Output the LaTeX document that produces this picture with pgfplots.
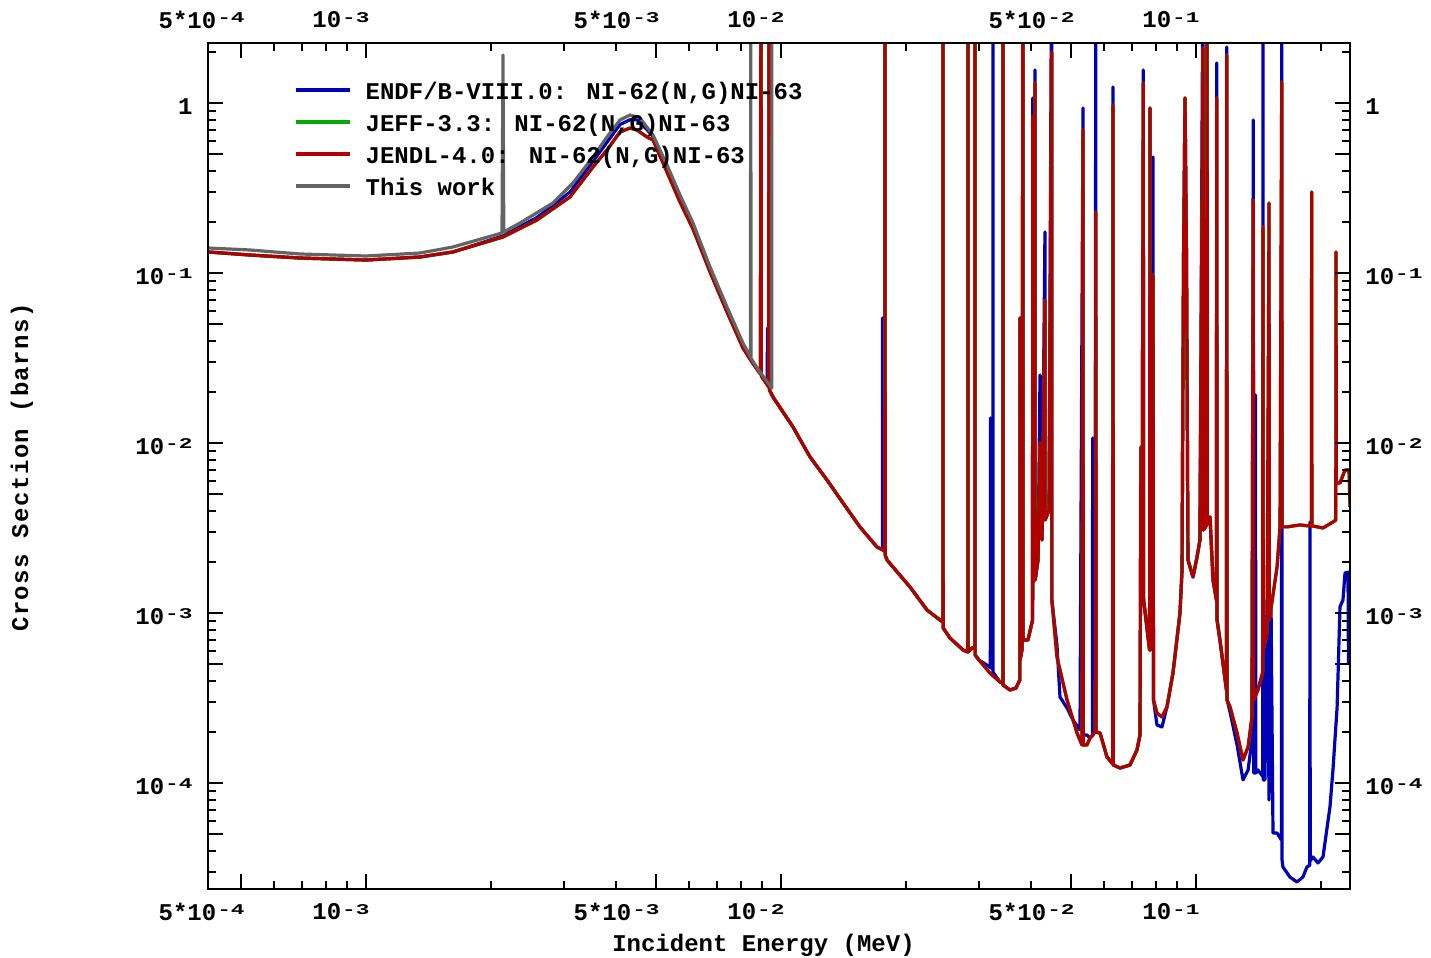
\documentclass[border=0pt]{standalone}
\usepackage{fontspec}
\setmainfont{Liberation Mono}
\usepackage{pgfplots}
\usepackage{pgfplotstable}
\pgfplotsset{compat=1.18}
\definecolor{cBlue}{RGB}{0,0,180}
\definecolor{cGreen}{RGB}{0,170,0}
\definecolor{cRed}{RGB}{176,0,0}
\definecolor{cGray}{RGB}{100,100,100}
\newcommand\lf{\fontsize{12bp}{14bp}\selectfont\bfseries}
\newcommand\ex[1]{\kern0.5bp\raisebox{0.24em}{\scalebox{0.95}[0.62]{#1}}}

% JENDL-4.0 (also used for JEFF-3.3, which coincides with it at this scale)
\pgfplotstableread{
E s
4.162e-4 0.1335
5.254e-4 0.1281
6.934e-4 0.1230
1.000e-3 0.1197
1.349e-3 0.1247
1.620e-3 0.1335
2.139e-3 0.1635
2.582e-3 0.2058
3.101e-3 0.2811
3.524e-3 0.4220
3.808e-3 0.5312
4.093e-3 0.6780
4.326e-3 0.7155
4.498e-3 0.6964
4.755e-3 0.6336
4.916e-3 0.6083
5.312e-3 0.3944
5.710e-3 0.2627
6.138e-3 0.1823
6.746e-3 0.1018
7.413e-3 0.05920
8.097e-3 0.03636
8.512e-3 0.03007
8.925e-3 0.02556
8.950e-3 10
8.970e-3 0.02489
9.203e-3 0.02263
9.340e-3 0.02144
9.360e-3 10
9.380e-3 0.02058
9.565e-3 0.01873
1.069e-2 0.01247
1.175e-2 8.306e-3
1.291e-2 6.083e-3
1.411e-2 4.455e-3
1.550e-2 3.219e-3
1.703e-2 2.455e-3
1.779e-2 2.325e-3
1.781e-2 10
1.783e-2 2.202e-3
1.801e-2 2.058e-3
2.046e-2 1.428e-3
2.248e-2 1.046e-3
2.416e-2 9.133e-4
2.455e-2 8.888e-4
2.457e-2 10
2.459e-2 8.195e-4
2.554e-2 7.155e-4
2.746e-2 6.083e-4
2.820e-2 5.921e-4
2.822e-2 10
2.824e-2 5.921e-4
2.885e-2 6.250e-4
2.932e-2 6.250e-4
2.934e-2 10
2.936e-2 5.683e-4
3.000e-2 5.312e-4
3.189e-2 4.455e-4
3.370e-2 3.944e-4
3.425e-2 3.890e-4
3.427e-2 10
3.429e-2 3.786e-4
3.563e-2 3.539e-4
3.684e-2 3.636e-4
3.764e-2 4.052e-4
3.766e-2 0.05459
3.768e-2 5.312e-4
3.808e-2 6.083e-4
3.829e-2 10
3.832e-2 6.964e-4
3.937e-2 6.964e-4
4.038e-2 9.133e-4
4.041e-2 0.8307
4.044e-2 1.197e-3
4.093e-2 1.316
4.097e-2 1.570e-3
4.163e-2 2.058e-3
4.209e-2 0.01004
4.256e-2 2.699e-3
4.326e-2 0.06964
4.330e-2 3.539e-3
4.424e-2 4.052e-3
4.490e-2 2.004
4.495e-2 1.197e-3
4.624e-2 5.533e-4
4.890e-2 3.090e-4
5.168e-2 1.976e-4
5.312e-2 1.680e-4
5.342e-2 0.6964
5.350e-2 1.680e-4
5.461e-2 1.680e-4
5.553e-2 1.847e-4
5.720e-2 2.004e-4
5.733e-2 0.2294
5.745e-2 2.004e-4
5.872e-2 1.976e-4
6.103e-2 1.428e-4
6.300e-2 1.299e-4
6.310e-2 0.977
6.320e-2 1.281e-4
6.560e-2 1.230e-4
6.934e-2 1.281e-4
7.207e-2 1.570e-4
7.330e-2 1.923e-4
7.370e-2 9.511e-3
7.410e-2 1.197e-3
7.464e-2 1.316
7.480e-2 1.197e-3
7.730e-2 6.083e-4
7.748e-2 0.9384
7.760e-2 6.083e-4
7.877e-2 0.0977
7.900e-2 3.090e-4
8.054e-2 2.591e-4
8.279e-2 2.455e-4
8.512e-2 2.810e-4
8.801e-2 4.455e-4
9.150e-2 1.004e-3
9.254e-2 1.797e-3
9.331e-2 0.1197
9.409e-2 1.075
9.487e-2 0.1197
9.565e-2 2.058e-3
9.835e-2 1.635e-3
0.1006 2.144e-3
0.1022 2.699e-3
0.1040 2.114
0.1042 3.090e-3
0.1061 3.306e-3
0.1063 10
0.1065 3.539e-3
0.1081 3.686e-3
0.1099 1.570e-3
0.1120 1.197e-3
0.1122 1.075
0.1124 9.133e-4
0.1142 6.964e-4
0.1184 3.539e-4
0.1186 1.923
0.1188 3.090e-4
0.1208 2.810e-4
0.1256 1.976e-4
0.1298 1.371e-4
0.1335 1.635e-4
0.1364 2.455e-4
0.1374 0.2699
0.1377 3.090e-4
0.1410 3.539e-4
0.1448 4.5e-4
0.1450 0.1873
0.1452 6.083e-4
0.1483 7.658e-4
0.1500 0.2591
0.1502 9.133e-4
0.1568 1.873e-3
0.1594 3.223e-3
0.1609 1.335
0.1612 3.223e-3
0.1657 3.223e-3
0.1781 3.311e-3
0.1897 3.25e-3
0.1900 0.3007
0.1903 3.27e-3
0.2023 3.176e-3
0.2138 3.444e-3
0.2172 3.539e-3
0.2175 0.1335
0.2178 5.842e-3
0.2223 5.842e-3
0.2286 6.964e-3
0.2337 6.964e-3
0.2350 4.220e-3
}\jendl

% ENDF/B-VIII.0
\pgfplotstableread{
E s
4.162e-4 0.1335
5.254e-4 0.1281
6.934e-4 0.1230
1.000e-3 0.1197
1.349e-3 0.1247
1.620e-3 0.1335
2.139e-3 0.1660
2.582e-3 0.2130
3.101e-3 0.3000
3.524e-3 0.4550
3.808e-3 0.5900
4.093e-3 0.7500
4.326e-3 0.8000
4.498e-3 0.8000
4.755e-3 0.7000
4.916e-3 0.6400
5.312e-3 0.4200
5.710e-3 0.2800
6.138e-3 0.1900
6.746e-3 0.1050
7.413e-3 0.06100
8.097e-3 0.03700
8.512e-3 0.03007
8.925e-3 0.02556
8.950e-3 10
8.970e-3 0.02489
9.203e-3 0.02263
9.260e-3 0.0222
9.280e-3 0.04766
9.300e-3 0.0218
9.340e-3 0.02144
9.360e-3 10
9.380e-3 0.02058
9.565e-3 0.01873
1.069e-2 0.01247
1.175e-2 8.306e-3
1.291e-2 6.083e-3
1.411e-2 4.455e-3
1.550e-2 3.219e-3
1.703e-2 2.455e-3
1.755e-2 2.37e-3
1.757e-2 0.05459
1.759e-2 2.35e-3
1.779e-2 2.325e-3
1.781e-2 10
1.783e-2 2.202e-3
1.801e-2 2.058e-3
2.046e-2 1.428e-3
2.248e-2 1.046e-3
2.416e-2 9.133e-4
2.455e-2 8.888e-4
2.457e-2 10
2.459e-2 8.195e-4
2.554e-2 7.155e-4
2.746e-2 6.083e-4
2.820e-2 5.921e-4
2.822e-2 10
2.824e-2 5.921e-4
2.885e-2 6.250e-4
2.932e-2 6.250e-4
2.934e-2 10
2.936e-2 5.683e-4
3.000e-2 5.312e-4
3.189e-2 4.83e-4
3.195e-2 4.8e-4
3.197e-2 0.01409
3.199e-2 4.8e-4
3.240e-2 4.7e-4
3.242e-2 10
3.244e-2 4.5e-4
3.370e-2 3.944e-4
3.425e-2 3.890e-4
3.427e-2 10
3.429e-2 3.786e-4
3.563e-2 3.539e-4
3.684e-2 3.636e-4
3.764e-2 4.052e-4
3.766e-2 0.05459
3.768e-2 5.312e-4
3.808e-2 6.083e-4
3.829e-2 10
3.832e-2 6.964e-4
3.937e-2 6.964e-4
4.038e-2 9.133e-4
4.041e-2 1.0745
4.044e-2 1.197e-3
4.093e-2 1.570
4.097e-2 1.570e-3
4.163e-2 2.058e-3
4.209e-2 0.02522
4.256e-2 2.699e-3
4.326e-2 0.1749
4.330e-2 3.539e-3
4.424e-2 4.052e-3
4.490e-2 10
4.495e-2 1.197e-3
4.624e-2 6.508e-4
4.702e-2 3.219e-4
4.890e-2 2.773e-4
5.054e-2 2.357e-4
5.254e-2 2.058e-4
5.342e-2 0.9384
5.350e-2 1.923e-4
5.461e-2 1.923e-4
5.553e-2 1.847e-4
5.630e-2 1.9e-4
5.636e-2 1.075e-2
5.642e-2 1.95e-4
5.720e-2 2.004e-4
5.733e-2 10
5.745e-2 2.004e-4
5.872e-2 1.976e-4
6.103e-2 1.428e-4
6.300e-2 1.299e-4
6.310e-2 1.247
6.320e-2 1.281e-4
6.560e-2 1.230e-4
6.934e-2 1.281e-4
7.207e-2 1.570e-4
7.330e-2 1.923e-4
7.370e-2 9.511e-3
7.410e-2 1.197e-3
7.464e-2 1.570
7.480e-2 1.197e-3
7.730e-2 6.083e-4
7.748e-2 0.9384
7.760e-2 6.083e-4
7.877e-2 0.4831
7.900e-2 3.090e-4
8.054e-2 2.202e-4
8.279e-2 2.144e-4
8.512e-2 2.810e-4
8.801e-2 4.455e-4
9.150e-2 1.004e-3
9.254e-2 1.797e-3
9.331e-2 0.1197
9.409e-2 1.075
9.487e-2 0.1197
9.565e-2 2.058e-3
9.835e-2 1.635e-3
0.1006 2.144e-3
0.1022 2.699e-3
0.1040 10
0.1042 3.090e-3
0.1061 3.306e-3
0.1063 10
0.1065 3.539e-3
0.1081 3.686e-3
0.1099 1.570e-3
0.1120 1.197e-3
0.1122 1.726
0.1124 9.133e-4
0.1142 6.964e-4
0.1184 3.539e-4
0.1186 2.144
0.1188 3.090e-4
0.1208 2.627e-4
0.1256 1.680e-4
0.1298 1.047e-4
0.1335 1.197e-4
0.1364 1.797e-4
0.1374 0.7976
0.1377 1.150e-4
0.1389 1.15e-4
0.1391 0.01923
0.1394 1.150e-4
0.1410 1.197e-4
0.1448 1.1e-4
0.1450 10
0.1452 1.047e-4
0.1466 1.047e-4
0.1483 1.197e-3
0.1500 7.976e-5
0.1516 1.197e-3
0.1533 5.101e-5
0.1568 5.101e-5
0.1606 4.640e-5
0.1609 10
0.1612 3.539e-5
0.1620 3.219e-5
0.1684 2.810e-5
0.1751 2.627e-5
0.1810 2.810e-5
0.1851 3.219e-5
0.1880 3.3e-5
0.1882 3.444e-3
0.1885 3.5e-5
0.1914 3.686e-5
0.1968 3.398e-5
0.2023 3.686e-5
0.2103 7.274e-5
0.2138 1.197e-4
0.2188 2.810e-4
0.2223 1.092e-3
0.2260 1.197e-3
0.2286 1.726e-3
0.2324 1.749e-3
0.2330 5.101e-4
0.2350 5.101e-4
}\endf

% This work
\pgfplotstableread{
E s
4.162e-4 0.1409
5.254e-4 0.1371
6.934e-4 0.1299
1.000e-3 0.1264
1.349e-3 0.1316
1.620e-3 0.1428
2.127e-3 0.1726
2.139e-3 1.923
2.148e-3 0.1750
2.350e-3 0.1976
2.822e-3 0.2591
3.154e-3 0.3398
3.524e-3 0.4831
3.808e-3 0.6336
4.093e-3 0.7976
4.326e-3 0.8536
4.573e-3 0.8196
4.916e-3 0.6508
5.312e-3 0.4336
5.710e-3 0.2888
6.138e-3 0.1976
6.746e-3 0.1089
7.413e-3 0.06336
8.097e-3 0.0389
8.420e-3 0.03262
8.445e-3 0.0324
8.453e-3 10
8.470e-3 0.0315
8.900e-3 0.02627
9.500e-3 0.02114
9.510e-3 10
}\thiswork

\begin{document}
\begin{tikzpicture}
\useasboundingbox (-104bp,-34.5bp) rectangle (611.5bp,444.5bp);
\begin{axis}[
  at={(0,0)}, anchor=south west,
  scale only axis, width=571bp, height=423bp,
  xmode=log, ymode=log,
  xmin=4.162e-4, xmax=0.2350, ymin=2.389e-5, ymax=2.263,
  axis line style={line width=1bp, black},
  tick style={line width=1bp, black},
  major tick length=7.5bp, minor tick length=4bp,
  tick align=inside, tick pos=both,
  xtick={5e-4,1e-3,5e-3,1e-2,5e-2,1e-1},
  xticklabels={5*10\ex{-4},10\ex{-3},5*10\ex{-3},10\ex{-2},5*10\ex{-2},10\ex{-1}},
  minor xtick={6e-4,7e-4,8e-4,9e-4,2e-3,3e-3,4e-3,6e-3,7e-3,8e-3,9e-3,2e-2,3e-2,4e-2,6e-2,7e-2,8e-2,9e-2,2e-1},
  ytick={1e-4,1e-3,1e-2,1e-1,1},
  yticklabels={10\ex{-4},10\ex{-3},10\ex{-2},10\ex{-1},1},
  minor ytick={3e-5,4e-5,6e-5,7e-5,8e-5,9e-5,2e-4,3e-4,4e-4,6e-4,7e-4,8e-4,9e-4,2e-3,3e-3,4e-3,6e-3,7e-3,8e-3,9e-3,2e-2,3e-2,4e-2,6e-2,7e-2,8e-2,9e-2,2e-1,3e-1,4e-1,6e-1,7e-1,8e-1,9e-1,2},
  extra y ticks={5e-5,5e-4,5e-3,5e-2,5e-1},
  extra y tick labels={},
  tick label style={font=\lf, inner sep=0pt},
  xticklabel style={anchor=east, xshift=2bp, yshift=-11.5bp},
  yticklabel style={anchor=east, xshift=-7.5bp, yshift=-1.5bp},
  legend style={draw=none, fill=none, at={(axis description cs:0.0754,0.9555)}, anchor=north west,
    inner sep=0pt, row sep=7bp, column sep=7bp, font=\lf,
    nodes={inner sep=0pt, text height=9bp, text depth=0pt}},
  legend cell align=left,
  legend image code/.code={\draw[#1] (0bp,0bp) -- (27bp,0bp);},
  every axis plot/.append style={line width=1.6bp, line join=round},
]
\addplot[cBlue] table[x=E,y=s]{\endf};
\addlegendentry{ENDF/B-VIII.0: NI-62(N,G)NI-63}
\addplot[cGreen] table[x=E,y=s]{\jendl};
\addlegendentry{JEFF-3.3: NI-62(N,G)NI-63}
\addplot[cRed] table[x=E,y=s]{\jendl};
\addlegendentry{JENDL-4.0: NI-62(N,G)NI-63}
\addplot[cGray] table[x=E,y=s]{\thiswork};
\addlegendentry{This work}
\end{axis}
\begin{axis}[
  at={(0,0)}, anchor=south west,
  scale only axis, width=571bp, height=423bp,
  xmode=log, ymode=log,
  xmin=4.162e-4, xmax=0.2350, ymin=2.389e-5, ymax=2.263,
  axis line style={line width=1bp, black},
  tick style={line width=1bp, black},
  major tick length=7.5bp, minor tick length=4bp,
  tick align=inside,
  xtick={5e-4,1e-3,5e-3,1e-2,5e-2,1e-1},
  xticklabels={5*10\ex{-4},10\ex{-3},5*10\ex{-3},10\ex{-2},5*10\ex{-2},10\ex{-1}},
  ytick={1e-4,1e-3,1e-2,1e-1,1},
  yticklabels={10\ex{-4},10\ex{-3},10\ex{-2},10\ex{-1},1},
  xtick pos=upper, ytick pos=right,
  xticklabel pos=upper, yticklabel pos=right,
  tick label style={font=\lf, inner sep=0pt},
  xticklabel style={anchor=east, xshift=2bp, yshift=11.5bp},
  yticklabel style={anchor=west, xshift=7.5bp, yshift=-1.5bp},
]
\addplot[draw=none] coordinates {(1e-3,1e-2)};
\end{axis}
\node[font=\lf] at (277.75bp,-28bp) {Incident Energy (MeV)};
\node[font=\lf, rotate=90] at (-93bp,210.75bp) {\addfontfeature{LetterSpace=6}Cross Section (barns)};
\end{tikzpicture}
\end{document}
